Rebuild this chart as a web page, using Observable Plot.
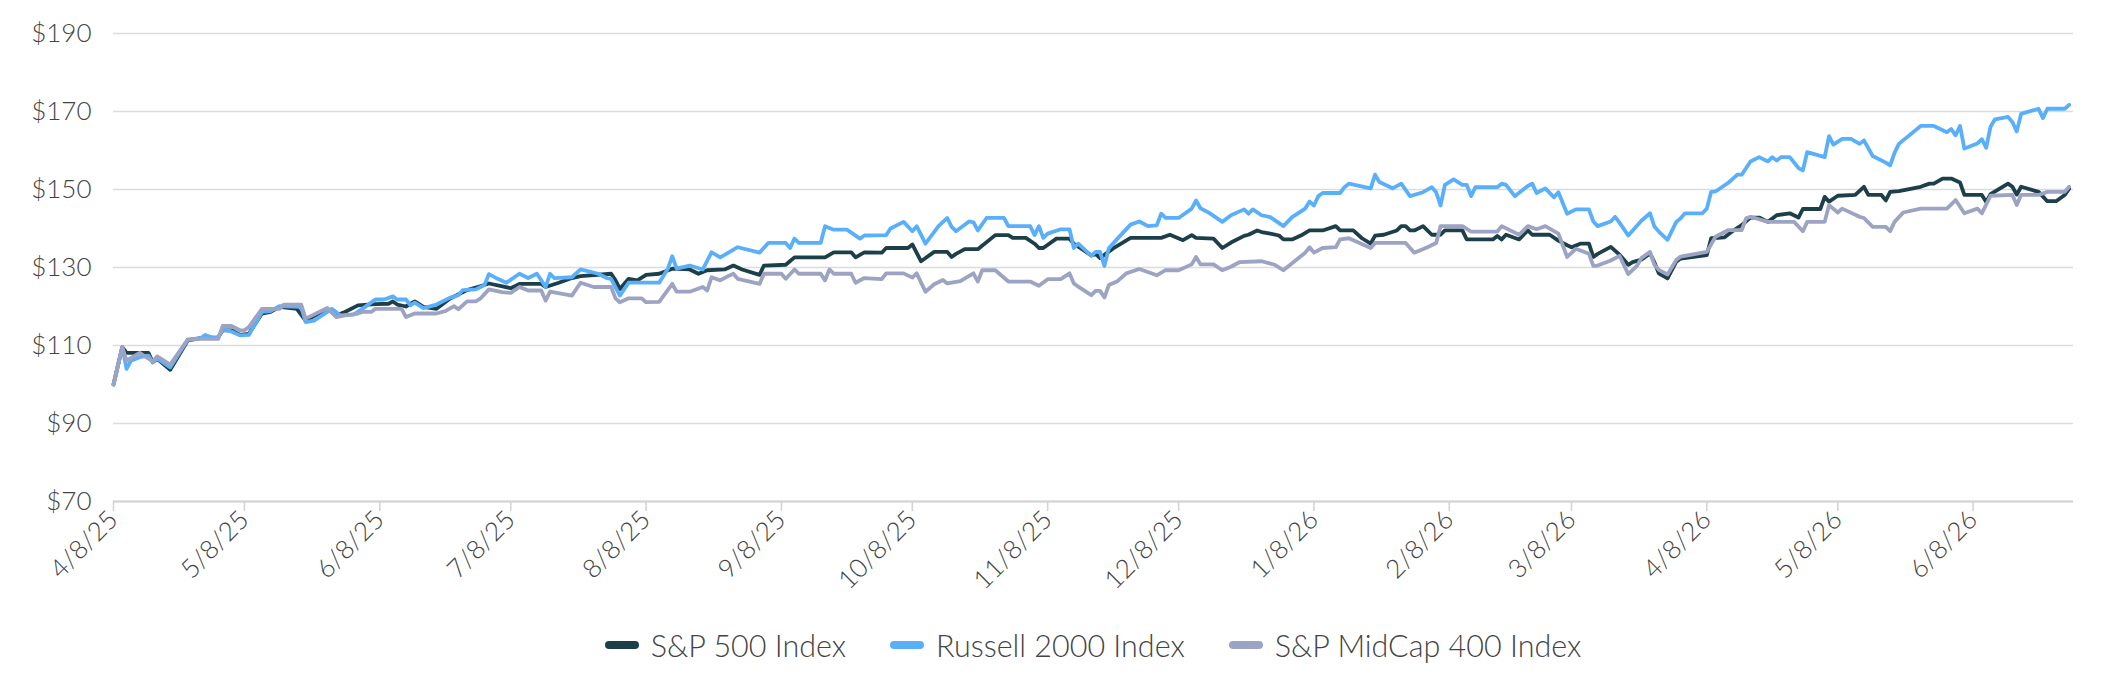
<!DOCTYPE html>
<html>
<head>
<meta charset="utf-8">
<script src="https://cdn.jsdelivr.net/npm/d3@7"></script>
<script src="https://cdn.jsdelivr.net/npm/@observablehq/plot@0.6"></script>
<style>
  html, body { margin: 0; padding: 0; background: #fff; }
  body { width: 2104px; font-family: Lato, "Open Sans", sans-serif; }
  #chart svg text { font-weight: 300; }
  #legend {
    display: flex; justify-content: center; align-items: center;
    height: 66px; padding: 0 31px 0 113px;
    font-size: 30.5px; font-weight: 300; color: #444;
  }
  .item { display: flex; align-items: center; margin: 0 22px; }
  .swatch { width: 34px; height: 8px; border-radius: 4px; margin-right: 12px; }
</style>
</head>
<body>
<div id="chart"></div>
<div id="legend"></div>
<script>
// Growth of $100 invested on 4/8/25, by index.
const sp500 = [
  ["2025-04-08",100.0],["2025-04-10",109.6],["2025-04-11",108.1],["2025-04-16",108.1],["2025-04-17",105.7],["2025-04-18",106.6],["2025-04-21",103.8],["2025-04-25",111.3],["2025-04-28",111.9],["2025-05-02",112.1],["2025-05-03",113.9],["2025-05-05",113.9],["2025-05-07",112.7],["2025-05-09",113.0],["2025-05-12",118.2],["2025-05-14",118.6],["2025-05-16",119.9],["2025-05-20",119.4],["2025-05-22",116.4],["2025-05-27",119.4],["2025-05-29",117.7],["2025-05-31",118.6],["2025-06-03",120.3],["2025-06-07",120.6],["2025-06-10",120.7],["2025-06-11",121.3],["2025-06-12",120.5],["2025-06-14",120.0],["2025-06-16",121.3],["2025-06-18",119.9],["2025-06-21",119.4],["2025-06-24",122.0],["2025-06-28",124.2],["2025-07-01",125.2],["2025-07-03",125.9],["2025-07-08",124.7],["2025-07-10",125.8],["2025-07-15",125.8],["2025-07-16",125.0],["2025-07-19",126.1],["2025-07-22",127.3],["2025-07-24",127.8],["2025-07-31",128.4],["2025-08-01",126.7],["2025-08-02",124.5],["2025-08-04",127.1],["2025-08-06",126.7],["2025-08-08",128.1],["2025-08-11",128.4],["2025-08-14",129.7],["2025-08-18",129.5],["2025-08-20",128.4],["2025-08-22",129.3],["2025-08-26",129.5],["2025-08-28",130.5],["2025-08-30",129.5],["2025-09-03",128.1],["2025-09-04",130.5],["2025-09-09",130.7],["2025-09-11",132.6],["2025-09-18",132.6],["2025-09-20",133.9],["2025-09-24",133.9],["2025-09-25",132.6],["2025-09-27",133.9],["2025-10-01",133.8],["2025-10-02",135.0],["2025-10-07",135.0],["2025-10-08",135.9],["2025-10-10",131.6],["2025-10-13",134.0],["2025-10-16",134.0],["2025-10-17",132.7],["2025-10-18",133.5],["2025-10-20",134.7],["2025-10-23",134.7],["2025-10-27",138.3],["2025-10-30",138.3],["2025-10-31",137.6],["2025-11-03",137.6],["2025-11-05",136.1],["2025-11-06",135.0],["2025-11-07",135.0],["2025-11-10",137.4],["2025-11-13",137.4],["2025-11-14",136.1],["2025-11-18",133.1],["2025-11-19",133.5],["2025-11-20",132.4],["2025-11-23",134.9],["2025-11-27",137.6],["2025-12-04",137.6],["2025-12-06",138.4],["2025-12-09",137.0],["2025-12-11",138.3],["2025-12-12",137.6],["2025-12-16",137.4],["2025-12-18",135.0],["2025-12-20",136.4],["2025-12-23",138.1],["2025-12-24",138.4],["2025-12-26",139.5],["2025-12-27",139.1],["2025-12-29",138.7],["2025-12-31",138.2],["2026-01-01",137.2],["2026-01-03",137.2],["2026-01-05",138.2],["2026-01-07",139.5],["2026-01-10",139.5],["2026-01-13",140.6],["2026-01-14",139.5],["2026-01-17",139.5],["2026-01-19",137.5],["2026-01-21",136.1],["2026-01-22",138.2],["2026-01-24",138.4],["2026-01-27",139.5],["2026-01-28",140.6],["2026-01-29",140.6],["2026-01-30",139.5],["2026-01-31",139.5],["2026-02-02",140.6],["2026-02-04",138.4],["2026-02-06",138.4],["2026-02-07",139.5],["2026-02-11",139.5],["2026-02-12",137.2],["2026-02-18",137.2],["2026-02-19",138.1],["2026-02-20",137.2],["2026-02-21",138.4],["2026-02-24",137.2],["2026-02-26",139.5],["2026-02-27",138.4],["2026-03-03",138.4],["2026-03-05",136.9],["2026-03-07",135.7],["2026-03-08",135.2],["2026-03-10",136.1],["2026-03-12",136.1],["2026-03-13",132.7],["2026-03-14",133.5],["2026-03-17",135.3],["2026-03-19",133.3],["2026-03-21",130.7],["2026-03-22",131.4],["2026-03-24",132.0],["2026-03-26",133.6],["2026-03-27",131.3],["2026-03-28",128.5],["2026-03-30",127.2],["2026-04-01",131.5],["2026-04-02",132.3],["2026-04-08",133.2],["2026-04-09",137.5],["2026-04-12",137.7],["2026-04-14",139.4],["2026-04-16",140.9],["2026-04-18",142.8],["2026-04-20",142.8],["2026-04-22",141.7],["2026-04-24",143.4],["2026-04-27",143.9],["2026-04-29",142.8],["2026-04-30",145.0],["2026-05-04",145.0],["2026-05-05",148.1],["2026-05-06",146.9],["2026-05-08",148.4],["2026-05-12",148.6],["2026-05-14",150.7],["2026-05-15",148.6],["2026-05-18",148.6],["2026-05-19",147.2],["2026-05-20",149.4],["2026-05-22",149.6],["2026-05-27",150.7],["2026-05-29",151.5],["2026-05-30",151.5],["2026-06-01",152.8],["2026-06-03",152.8],["2026-06-05",151.8],["2026-06-06",148.6],["2026-06-10",148.6],["2026-06-11",146.8],["2026-06-12",148.8],["2026-06-16",151.5],["2026-06-17",150.7],["2026-06-18",148.7],["2026-06-19",150.7],["2026-06-23",149.4],["2026-06-25",147.0],["2026-06-27",147.0],["2026-06-29",148.6],["2026-06-30",150.2]
];

const russell2000 = [
  ["2025-04-08",100.0],["2025-04-10",109.6],["2025-04-11",104.0],["2025-04-12",106.1],["2025-04-14",107.0],["2025-04-16",107.4],["2025-04-17",105.7],["2025-04-18",106.7],["2025-04-21",104.4],["2025-04-25",111.5],["2025-04-28",111.9],["2025-04-29",112.7],["2025-05-01",111.9],["2025-05-02",112.1],["2025-05-03",114.1],["2025-05-05",113.6],["2025-05-07",112.6],["2025-05-09",112.7],["2025-05-12",118.6],["2025-05-14",118.8],["2025-05-16",120.1],["2025-05-21",119.9],["2025-05-22",116.0],["2025-05-24",116.4],["2025-05-28",119.4],["2025-05-30",117.7],["2025-06-02",117.9],["2025-06-04",119.4],["2025-06-07",121.8],["2025-06-09",121.8],["2025-06-11",122.6],["2025-06-12",121.8],["2025-06-14",121.8],["2025-06-15",120.3],["2025-06-16",121.0],["2025-06-18",119.6],["2025-06-21",120.5],["2025-06-24",122.2],["2025-06-26",122.9],["2025-06-27",124.2],["2025-06-30",124.4],["2025-07-02",125.5],["2025-07-03",128.3],["2025-07-05",127.1],["2025-07-07",126.1],["2025-07-10",128.4],["2025-07-12",127.3],["2025-07-14",128.4],["2025-07-16",125.0],["2025-07-17",128.4],["2025-07-18",127.3],["2025-07-22",127.5],["2025-07-24",129.5],["2025-07-28",128.4],["2025-07-30",127.3],["2025-07-31",127.1],["2025-08-02",122.8],["2025-08-04",126.1],["2025-08-11",126.1],["2025-08-13",129.7],["2025-08-14",132.9],["2025-08-15",129.7],["2025-08-18",130.5],["2025-08-21",129.5],["2025-08-23",133.9],["2025-08-25",132.6],["2025-08-29",135.2],["2025-09-03",133.8],["2025-09-05",136.3],["2025-09-09",136.3],["2025-09-10",135.0],["2025-09-11",137.4],["2025-09-12",136.3],["2025-09-17",136.3],["2025-09-18",140.6],["2025-09-20",139.7],["2025-09-23",139.7],["2025-09-26",137.4],["2025-09-27",138.2],["2025-10-02",138.3],["2025-10-03",140.0],["2025-10-06",141.7],["2025-10-08",139.3],["2025-10-09",140.6],["2025-10-11",136.1],["2025-10-14",140.6],["2025-10-16",142.7],["2025-10-17",140.4],["2025-10-18",139.3],["2025-10-21",141.8],["2025-10-22",141.6],["2025-10-23",139.5],["2025-10-25",142.7],["2025-10-29",142.7],["2025-10-30",140.6],["2025-11-04",140.6],["2025-11-05",138.3],["2025-11-06",140.6],["2025-11-07",137.6],["2025-11-08",138.7],["2025-11-11",139.8],["2025-11-13",139.8],["2025-11-14",135.0],["2025-11-15",136.1],["2025-11-18",133.0],["2025-11-19",134.0],["2025-11-20",134.0],["2025-11-21",130.4],["2025-11-22",134.9],["2025-11-24",137.4],["2025-11-27",141.0],["2025-11-29",141.8],["2025-12-01",140.6],["2025-12-03",140.8],["2025-12-04",143.8],["2025-12-05",142.7],["2025-12-08",142.7],["2025-12-11",145.1],["2025-12-12",147.2],["2025-12-13",145.2],["2025-12-15",144.0],["2025-12-18",141.7],["2025-12-20",143.4],["2025-12-23",144.9],["2025-12-24",143.8],["2025-12-25",144.9],["2025-12-27",143.4],["2025-12-29",142.9],["2026-01-01",140.6],["2026-01-03",142.9],["2026-01-06",145.1],["2026-01-07",146.9],["2026-01-08",145.9],["2026-01-09",148.3],["2026-01-10",149.1],["2026-01-14",149.1],["2026-01-15",150.6],["2026-01-16",151.5],["2026-01-21",150.3],["2026-01-22",153.8],["2026-01-23",151.9],["2026-01-26",150.3],["2026-01-28",151.5],["2026-01-30",148.3],["2026-02-02",149.3],["2026-02-04",150.6],["2026-02-05",149.3],["2026-02-06",145.9],["2026-02-07",151.2],["2026-02-09",152.6],["2026-02-11",151.2],["2026-02-12",151.2],["2026-02-13",148.3],["2026-02-14",150.6],["2026-02-19",150.6],["2026-02-20",151.5],["2026-02-21",151.2],["2026-02-23",148.3],["2026-02-26",150.9],["2026-02-27",151.5],["2026-02-28",149.1],["2026-03-02",150.3],["2026-03-04",148.0],["2026-03-05",149.3],["2026-03-07",143.8],["2026-03-09",144.9],["2026-03-12",144.9],["2026-03-13",141.8],["2026-03-14",140.6],["2026-03-17",141.8],["2026-03-18",143.0],["2026-03-19",141.5],["2026-03-21",138.2],["2026-03-24",142.0],["2026-03-26",143.9],["2026-03-27",140.5],["2026-03-28",139.2],["2026-03-30",137.1],["2026-04-01",141.7],["2026-04-02",142.6],["2026-04-03",143.9],["2026-04-07",143.9],["2026-04-08",145.1],["2026-04-09",149.4],["2026-04-10",149.5],["2026-04-13",151.8],["2026-04-15",153.8],["2026-04-16",153.8],["2026-04-18",157.2],["2026-04-20",158.3],["2026-04-22",157.2],["2026-04-23",158.3],["2026-04-24",157.4],["2026-04-25",158.3],["2026-04-27",158.3],["2026-04-29",155.5],["2026-04-30",154.9],["2026-05-01",159.6],["2026-05-05",158.3],["2026-05-06",163.7],["2026-05-07",161.5],["2026-05-09",163.0],["2026-05-11",163.0],["2026-05-13",161.7],["2026-05-14",162.6],["2026-05-16",158.6],["2026-05-19",156.9],["2026-05-20",156.2],["2026-05-21",159.4],["2026-05-22",161.7],["2026-05-27",166.3],["2026-05-30",166.3],["2026-06-02",164.7],["2026-06-03",165.5],["2026-06-04",163.9],["2026-06-05",166.3],["2026-06-06",160.5],["2026-06-09",161.8],["2026-06-10",162.9],["2026-06-11",160.7],["2026-06-12",166.1],["2026-06-13",168.0],["2026-06-16",168.6],["2026-06-17",167.3],["2026-06-18",164.9],["2026-06-19",169.4],["2026-06-23",170.7],["2026-06-24",168.3],["2026-06-25",170.7],["2026-06-29",170.7],["2026-06-30",171.7]
];

const midcap400 = [
  ["2025-04-08",100.0],["2025-04-10",109.6],["2025-04-11",106.1],["2025-04-14",108.1],["2025-04-17",105.9],["2025-04-18",107.2],["2025-04-21",105.1],["2025-04-25",111.5],["2025-04-28",111.7],["2025-05-02",111.7],["2025-05-03",115.0],["2025-05-05",115.0],["2025-05-07",113.9],["2025-05-08",113.9],["2025-05-09",114.7],["2025-05-12",119.4],["2025-05-16",119.4],["2025-05-17",120.5],["2025-05-21",120.5],["2025-05-22",116.9],["2025-05-27",119.6],["2025-05-29",117.3],["2025-05-31",117.7],["2025-06-03",118.2],["2025-06-04",118.6],["2025-06-06",118.6],["2025-06-07",119.4],["2025-06-13",119.4],["2025-06-14",117.3],["2025-06-16",118.2],["2025-06-21",118.2],["2025-06-23",118.8],["2025-06-25",120.1],["2025-06-26",119.3],["2025-06-28",121.3],["2025-06-30",121.3],["2025-07-01",122.0],["2025-07-03",124.4],["2025-07-06",123.7],["2025-07-08",123.5],["2025-07-10",125.0],["2025-07-12",124.1],["2025-07-15",124.1],["2025-07-16",121.5],["2025-07-17",123.8],["2025-07-22",122.8],["2025-07-24",126.1],["2025-07-27",125.0],["2025-07-31",125.0],["2025-08-01",122.1],["2025-08-02",121.1],["2025-08-04",122.1],["2025-08-07",122.1],["2025-08-08",121.1],["2025-08-11",121.2],["2025-08-14",125.8],["2025-08-15",123.8],["2025-08-18",123.8],["2025-08-21",125.0],["2025-08-22",124.1],["2025-08-23",127.5],["2025-08-25",126.7],["2025-08-27",127.9],["2025-08-28",128.4],["2025-08-29",127.1],["2025-09-03",125.8],["2025-09-04",128.4],["2025-09-08",128.4],["2025-09-09",127.1],["2025-09-11",129.5],["2025-09-12",128.4],["2025-09-17",128.4],["2025-09-18",126.7],["2025-09-19",129.5],["2025-09-20",128.4],["2025-09-24",128.4],["2025-09-25",126.1],["2025-09-27",127.3],["2025-10-01",127.0],["2025-10-02",128.5],["2025-10-06",128.5],["2025-10-08",127.4],["2025-10-09",128.5],["2025-10-11",123.8],["2025-10-13",125.7],["2025-10-15",126.8],["2025-10-16",125.9],["2025-10-19",126.5],["2025-10-22",128.5],["2025-10-23",126.4],["2025-10-24",129.3],["2025-10-27",129.3],["2025-10-30",126.4],["2025-11-04",126.4],["2025-11-06",125.3],["2025-11-08",127.0],["2025-11-11",127.0],["2025-11-13",128.5],["2025-11-14",125.9],["2025-11-15",125.1],["2025-11-18",122.9],["2025-11-19",124.0],["2025-11-20",124.0],["2025-11-21",122.3],["2025-11-22",125.5],["2025-11-24",126.5],["2025-11-26",128.5],["2025-11-29",129.6],["2025-12-03",128.0],["2025-12-05",129.3],["2025-12-08",129.3],["2025-12-11",130.8],["2025-12-12",132.7],["2025-12-13",130.8],["2025-12-16",130.8],["2025-12-18",129.3],["2025-12-20",130.2],["2025-12-22",131.4],["2025-12-27",131.6],["2025-12-30",130.7],["2026-01-01",129.3],["2026-01-06",133.8],["2026-01-07",135.2],["2026-01-08",133.8],["2026-01-10",135.0],["2026-01-13",135.2],["2026-01-14",137.2],["2026-01-16",137.5],["2026-01-21",135.0],["2026-01-22",136.3],["2026-01-29",136.3],["2026-01-31",133.8],["2026-02-03",135.2],["2026-02-05",136.3],["2026-02-06",140.6],["2026-02-11",140.6],["2026-02-13",139.2],["2026-02-19",139.2],["2026-02-20",140.6],["2026-02-24",138.4],["2026-02-26",140.6],["2026-02-28",139.8],["2026-03-02",140.6],["2026-03-05",138.7],["2026-03-07",132.7],["2026-03-09",134.8],["2026-03-12",133.5],["2026-03-13",130.4],["2026-03-14",130.5],["2026-03-17",131.8],["2026-03-19",133.0],["2026-03-21",128.3],["2026-03-23",130.4],["2026-03-24",132.4],["2026-03-26",134.0],["2026-03-27",130.7],["2026-03-28",129.4],["2026-03-30",128.2],["2026-04-01",131.9],["2026-04-02",132.8],["2026-04-08",134.0],["2026-04-10",137.9],["2026-04-13",139.6],["2026-04-16",139.6],["2026-04-17",142.6],["2026-04-18",143.0],["2026-04-22",141.7],["2026-04-28",141.7],["2026-04-30",139.3],["2026-05-01",141.7],["2026-05-05",141.7],["2026-05-06",146.0],["2026-05-08",144.1],["2026-05-09",145.1],["2026-05-13",143.0],["2026-05-14",142.7],["2026-05-16",140.4],["2026-05-19",140.4],["2026-05-20",139.3],["2026-05-21",141.7],["2026-05-23",144.1],["2026-05-27",145.1],["2026-06-02",145.1],["2026-06-04",147.3],["2026-06-06",143.9],["2026-06-09",145.1],["2026-06-10",143.9],["2026-06-12",148.4],["2026-06-17",148.6],["2026-06-18",146.0],["2026-06-19",148.6],["2026-06-23",148.6],["2026-06-25",149.4],["2026-06-29",149.4],["2026-06-30",150.7]
];

const seriesNames = ["S&P 500 Index", "Russell 2000 Index", "S&P MidCap 400 Index"];
const seriesColors = ["#1c3f4a", "#5aaffb", "#9da3c3"];
const yTicks = [70, 90, 110, 130, 150, 170, 190];
const xTickLabels = ["4/8/25","5/8/25","6/8/25","7/8/25","8/8/25","9/8/25","10/8/25","11/8/25","12/8/25","1/8/26","2/8/26","3/8/26","4/8/26","5/8/26","6/8/26"];

const parseDate = d3.utcParse("%Y-%m-%d");
const parseTick = d3.utcParse("%-m/%-d/%y");
const formatTick = d3.utcFormat("%-m/%-d/%y");

const rows = [sp500, russell2000, midcap400].flatMap((s, i) =>
  s.map(([date, value]) => ({series: seriesNames[i], date: parseDate(date), value}))
);

const chart = Plot.plot({
  width: 2104,
  height: 612,
  marginTop: 33,
  marginBottom: 111,
  marginLeft: 113,
  marginRight: 31,
  style: {fontFamily: "Lato, 'Open Sans', sans-serif", fontSize: "26px", color: "#444", background: "#fff"},
  x: {type: "utc", domain: [parseDate("2025-04-08"), parseDate("2026-07-01")]},
  y: {domain: [70, 190]},
  color: {domain: seriesNames, range: seriesColors},
  marks: [
    Plot.gridY(yTicks, {stroke: "#dcdcdc", strokeOpacity: 1, strokeWidth: 1.6}),
    Plot.ruleY([70], {stroke: "#d2d2d2", strokeWidth: 2}),
    Plot.axisY(yTicks, {tickFormat: d => `$${d}`, tickSize: 0, tickPadding: 22, label: null}),
    Plot.axisX(xTickLabels.map(parseTick), {
      tickFormat: formatTick, tickRotate: -45, tickSize: 10, tickPadding: 4,
      stroke: "#d2d2d2", strokeWidth: 1.5, label: null
    }),
    Plot.lineY(rows, {
      x: "date", y: "value", z: "series", stroke: "series",
      strokeWidth: 3.8, strokeLinejoin: "round", strokeLinecap: "round"
    })
  ]
});
document.getElementById("chart").append(chart);

// Legend below the plot, centred on the plotting area
const legend = d3.select("#legend");
seriesNames.forEach((name, i) => {
  const item = legend.append("div").attr("class", "item");
  item.append("span").attr("class", "swatch").style("background", seriesColors[i]);
  item.append("span").text(name);
});
</script>
</body>
</html>
